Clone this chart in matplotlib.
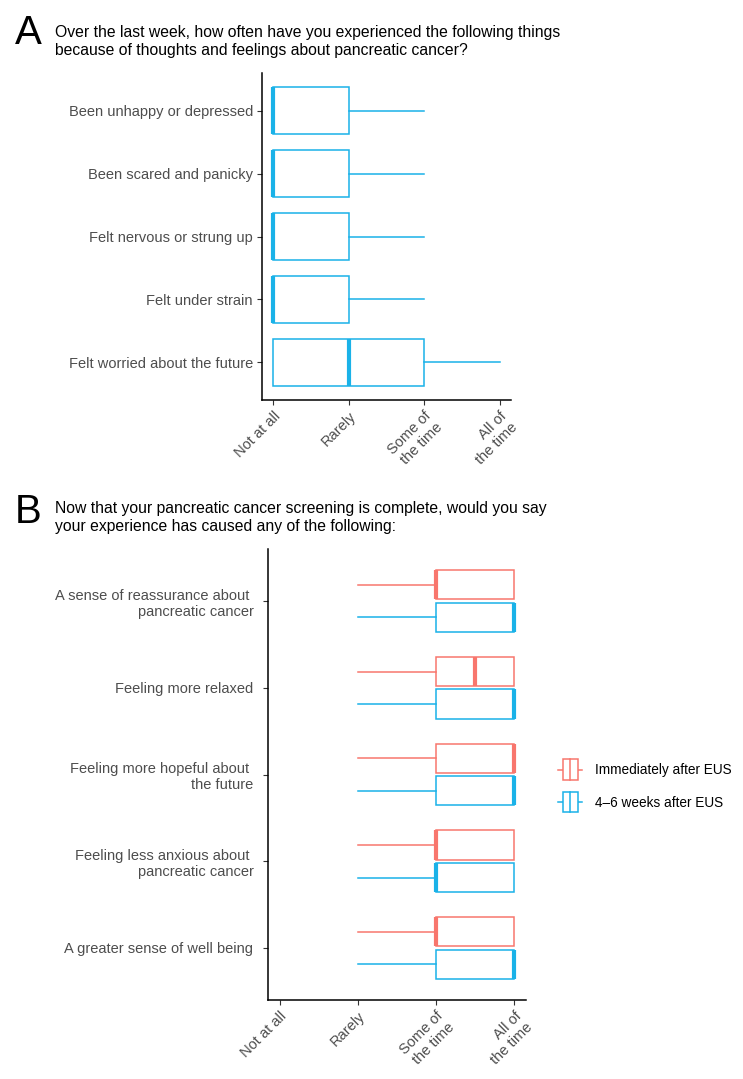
import matplotlib
matplotlib.use('Agg')
import matplotlib.pyplot as plt
from matplotlib.legend_handler import HandlerBase
from matplotlib.patches import Rectangle
from matplotlib.lines import Line2D

plt.rcParams['font.family'] = ['Liberation Sans', 'DejaVu Sans']

RED = '#F8766D'
BLUE = '#1AB2E8'
GREY = '#4D4D4D'

# scale 1..4
levels = ['Not at all', 'Rarely', 'Some of\nthe time', 'All of\nthe time']

# panel A (bottom to top)
items_a = ['Felt worried about the future', 'Felt under strain',
           'Felt nervous or strung up', 'Been scared and panicky',
           'Been unhappy or depressed']
a_whislo = [1, 1, 1, 1, 1]
a_q1 = [1, 1, 1, 1, 1]
a_med = [2, 1, 1, 1, 1]
a_q3 = [3, 2, 2, 2, 2]
a_whishi = [4, 3, 3, 3, 3]

# panel B (bottom to top)
items_b = ['A greater sense of well being',
           'Feeling less anxious about \npancreatic cancer',
           'Feeling more hopeful about \nthe future',
           'Feeling more relaxed',
           'A sense of reassurance about \npancreatic cancer']
groups = ['Immediately after EUS', '4\u20136 weeks after EUS']
b_whislo = {groups[0]: [2, 2, 2, 2, 2], groups[1]: [2, 2, 2, 2, 2]}
b_q1 = {groups[0]: [3, 3, 3, 3, 3], groups[1]: [3, 3, 3, 3, 3]}
b_med = {groups[0]: [3, 3, 4, 3.5, 3], groups[1]: [4, 3, 4, 4, 4]}
b_q3 = {groups[0]: [4, 4, 4, 4, 4], groups[1]: [4, 4, 4, 4, 4]}
b_whishi = {groups[0]: [4, 4, 4, 4, 4], groups[1]: [4, 4, 4, 4, 4]}
group_colors = {groups[0]: RED, groups[1]: BLUE}


def make_stats(wlo, q1, med, q3, whi):
    return [dict(whislo=a, q1=b, med=c, q3=d, whishi=e, fliers=[])
            for a, b, c, d, e in zip(wlo, q1, med, q3, whi)]


def draw_box(ax, stats, positions, width, color):
    ax.bxp(stats, positions=positions, widths=width, orientation='horizontal',
           showcaps=False, showfliers=False, patch_artist=True,
           boxprops=dict(facecolor='white', edgecolor=color, linewidth=1.1),
           whiskerprops=dict(color=color, linewidth=1.1),
           medianprops=dict(color=color, linewidth=3.0, solid_capstyle='butt'))


def style_axis(ax):
    ax.set_xlim(0.85, 4.15)
    ax.set_ylim(0.4, 5.6)
    ax.set_xticks(range(1, 5))
    ax.set_xticklabels(levels, rotation=45, ha='right', va='top',
                       rotation_mode='anchor', fontsize=10.5, color=GREY,
                       linespacing=1.1)
    for s in ['top', 'right']:
        ax.spines[s].set_visible(False)
    for s in ['left', 'bottom']:
        ax.spines[s].set_linewidth(1.1)
    ax.tick_params(length=3.5, width=0.8, color='#333333', pad=3)
    ax.tick_params(axis='y', labelsize=10.5, labelcolor=GREY)


class BoxHandler(HandlerBase):
    def create_artists(self, legend, orig_handle, xdescent, ydescent,
                       width, height, fontsize, trans):
        c = orig_handle.get_color()
        cx = width / 2 - xdescent
        cy = height / 2 - ydescent
        bw, bh = width * 0.62, height * 1.75
        rect = Rectangle((cx - bw / 2, cy - bh / 2), bw, bh, facecolor='white',
                         edgecolor=c, linewidth=1.1, transform=trans)
        med = Line2D([cx, cx], [cy - bh / 2, cy + bh / 2], color=c,
                     linewidth=1.1, transform=trans)
        w1 = Line2D([cx - width * 0.5, cx - bw / 2], [cy, cy], color=c,
                    linewidth=1.1, transform=trans)
        w2 = Line2D([cx + bw / 2, cx + width * 0.5], [cy, cy], color=c,
                    linewidth=1.1, transform=trans)
        return [w1, w2, rect, med]


fig = plt.figure(figsize=(7.43, 10.79), dpi=100)

# ---- panel A
ax_a = fig.add_axes([0.3526, 0.6293, 0.3352, 0.3030])
draw_box(ax_a, make_stats(a_whislo, a_q1, a_med, a_q3, a_whishi),
         list(range(1, 6)), 0.75, BLUE)
style_axis(ax_a)
ax_a.set_yticks(range(1, 6))
ax_a.set_yticklabels(items_a)

fig.text(0.020, 0.987, 'A', fontsize=29, va='top', ha='left')
fig.text(0.074, 0.977,
         'Over the last week, how often have you experienced the following things\n'
         'because of thoughts and feelings about pancreatic cancer?',
         fontsize=11.3, va='top', ha='left', linespacing=1.3)

# ---- panel B
ax_b = fig.add_axes([0.3607, 0.0732, 0.3473, 0.4180])
offsets = {groups[0]: 0.1875, groups[1]: -0.1875}
for g in groups:
    pos = [i + 1 + offsets[g] for i in range(len(items_b))]
    draw_box(ax_b, make_stats(b_whislo[g], b_q1[g], b_med[g], b_q3[g], b_whishi[g]),
             pos, 0.3375, group_colors[g])
style_axis(ax_b)
ax_b.set_yticks(range(1, 6))
ax_b.set_yticklabels(items_b)
ax_b.tick_params(axis='y', pad=7)

fig.text(0.020, 0.543, 'B', fontsize=29, va='top', ha='left')
fig.text(0.074, 0.536,
         'Now that your pancreatic cancer screening is complete, would you say\n'
         'your experience has caused any of the following:',
         fontsize=11.3, va='top', ha='left', linespacing=1.3)

handles = [Line2D([], [], color=group_colors[g]) for g in groups]
fig.legend(handles, groups, handler_map={Line2D: BoxHandler()},
           loc='center left', bbox_to_anchor=(0.738, 0.271), frameon=False,
           fontsize=9.8, handlelength=1.8, handleheight=0.95,
           labelspacing=1.35, handletextpad=0.9, borderpad=0.2)

fig.savefig('out.png', dpi=100)
